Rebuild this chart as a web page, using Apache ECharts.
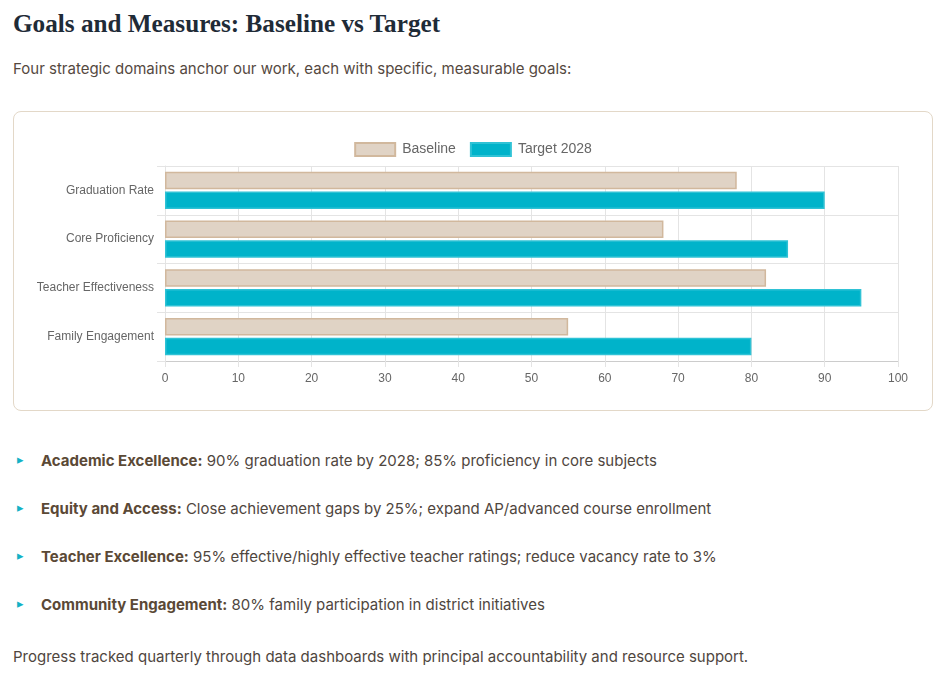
<!DOCTYPE html>
<html>
<head>
<meta charset="utf-8">
<script src="https://cdn.jsdelivr.net/npm/echarts@6/dist/echarts.min.js"></script>
<style>
  html, body { margin: 0; padding: 0; background: #ffffff; }
  body { width: 952px; height: 696px; position: relative; font-family: Inter, "Noto Sans", sans-serif; overflow: hidden; }
  h1 { position: absolute; left: 13px; top: 9px; margin: 0; font-family: "Liberation Serif", serif; font-weight: bold; font-size: 25.2px; line-height: 30px; color: #1f2b37; }
  .sub { position: absolute; left: 13px; top: 59px; margin: 0; font-size: 15px; color: #55493f; }
  .card { position: absolute; left: 13px; top: 111px; width: 918px; height: 298px; border: 1px solid #e3d8c8; border-radius: 8px; box-sizing: content-box; }
  #chart { position: absolute; left: 0; top: 0; width: 918px; height: 298px; }
  ul { position: absolute; left: 13px; top: 450px; margin: 0; padding: 0; list-style: none; }
  li { position: relative; height: 48px; line-height: 22px; font-size: 15px; color: #4f463e; padding-left: 28px; }
  li::before { content: "\25B8"; position: absolute; left: 4px; top: -2px; font-size: 13px; color: #12b2c6; }
  li b { color: #5b4936; font-weight: 700; }
  .foot { position: absolute; left: 13px; top: 647px; margin: 0; font-size: 15px; color: #4f463e; }
</style>
</head>
<body>
<h1>Goals and Measures: Baseline vs Target</h1>
<p class="sub">Four strategic domains anchor our work, each with specific, measurable goals:</p>
<div class="card"><div id="chart"></div></div>
<ul>
  <li><b>Academic Excellence:</b> 90% graduation rate by 2028; 85% proficiency in core subjects</li>
  <li><b>Equity and Access:</b> Close achievement gaps by 25%; expand AP/advanced course enrollment</li>
  <li><b>Teacher Excellence:</b> 95% effective/highly effective teacher ratings; reduce vacancy rate to 3%</li>
  <li><b>Community Engagement:</b> 80% family participation in district initiatives</li>
</ul>
<p class="foot">Progress tracked quarterly through data dashboards with principal accountability and resource support.</p>
<script>
const categories = ["Graduation Rate", "Core Proficiency", "Teacher Effectiveness", "Family Engagement"];
const baseline = [78, 68, 82, 55];
const target2028 = [90, 85, 95, 80];
const seriesNames = ["Baseline", "Target 2028"];

const chart = echarts.init(document.getElementById('chart'), null, { renderer: 'canvas' });
const gridColor = '#e4e4e4';
const fontFam = '"Liberation Sans", Arial, Helvetica, sans-serif';
chart.setOption({
  animation: false,
  legend: {
    top: 25,
    left: 'center',
    icon: 'rect',
    itemWidth: 40,
    itemHeight: 13,
    itemGap: 14,
    textStyle: { fontFamily: fontFam, fontSize: 14, color: '#666666', padding: [0, 0, 0, 2] },
    data: seriesNames
  },
  grid: { left: 151, top: 54, width: 733, height: 195, containLabel: false },
  xAxis: {
    type: 'value',
    min: 0,
    max: 100,
    interval: 10,
    axisLine: { show: true, lineStyle: { color: '#cccccc', width: 1 } },
    axisTick: { show: true, length: 6, lineStyle: { color: gridColor } },
    axisLabel: { fontFamily: fontFam, fontSize: 12, color: '#666666', margin: 12 },
    splitLine: { show: true, lineStyle: { color: gridColor, width: 1 } }
  },
  yAxis: {
    type: 'category',
    inverse: true,
    data: categories,
    axisLine: { show: true, lineStyle: { color: gridColor, width: 1 } },
    axisTick: { show: true, length: 8, lineStyle: { color: gridColor } },
    axisLabel: { fontFamily: fontFam, fontSize: 12, color: '#666666', margin: 11 },
    splitLine: { show: true, lineStyle: { color: gridColor, width: 1 } }
  },
  series: [
    {
      name: seriesNames[0],
      type: 'bar',
      data: baseline,
      barWidth: 17.5,
      barGap: '12%',
      itemStyle: { color: '#e0d3c5', borderColor: '#d1b89d', borderWidth: 1.5 }
    },
    {
      name: seriesNames[1],
      type: 'bar',
      data: target2028,
      barWidth: 17.5,
      barGap: '12%',
      itemStyle: { color: '#00b3ca', borderColor: '#2fc2d5', borderWidth: 1.5 }
    }
  ]
});
</script>
</body>
</html>
